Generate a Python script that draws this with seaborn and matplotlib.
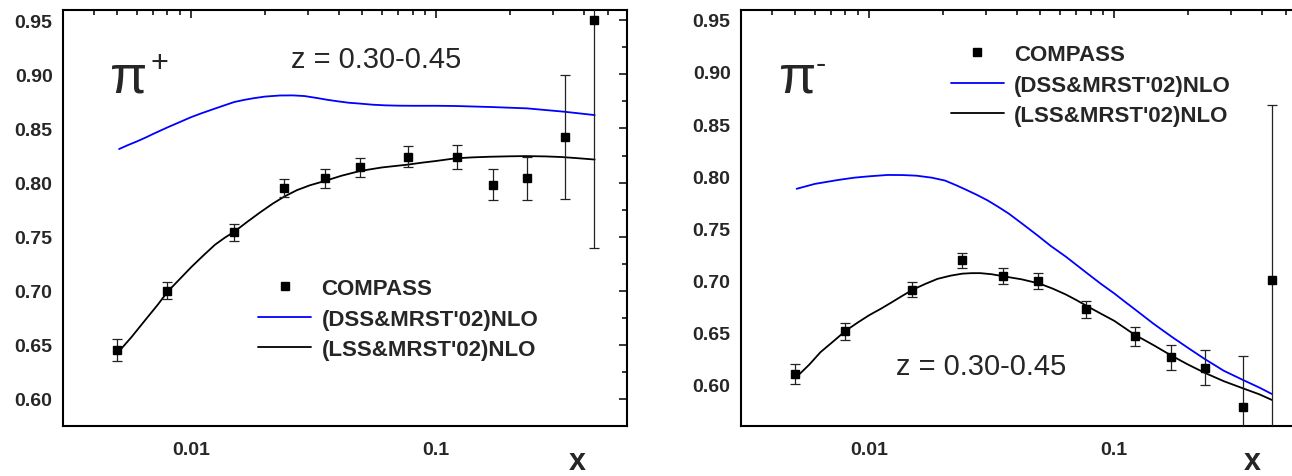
import numpy as np
import pandas as pd
import matplotlib
matplotlib.use("Agg")
import matplotlib.pyplot as plt
from matplotlib.lines import Line2D
from matplotlib.ticker import FixedLocator, FixedFormatter, LogLocator, NullFormatter, MultipleLocator, FormatStrFormatter
import seaborn as sns

# ---------------- data ----------------
x_pts = [0.005, 0.008, 0.015, 0.024, 0.035, 0.049, 0.077, 0.121, 0.171, 0.235, 0.334, 0.442]

pip_y = [0.645, 0.700, 0.754, 0.795, 0.804, 0.814, 0.824, 0.824, 0.798, 0.804, 0.842, 0.950]
pip_err = [0.010, 0.008, 0.008, 0.0085, 0.0088, 0.009, 0.0095, 0.011, 0.0143, 0.0197, 0.057, 0.21]

pim_y = [0.610, 0.651, 0.691, 0.719, 0.704, 0.699, 0.672, 0.646, 0.626, 0.616, 0.578, 0.700]
pim_err = [0.0098, 0.008, 0.007, 0.0076, 0.008, 0.0078, 0.008, 0.0087, 0.012, 0.017, 0.049, 0.168]

pip_dss_x = [0.00508, 0.0055, 0.006, 0.0065, 0.007, 0.008, 0.009, 0.010, 0.011, 0.012, 0.0135, 0.015,
             0.0165, 0.018, 0.020, 0.023, 0.026, 0.029, 0.033, 0.036, 0.040, 0.044, 0.049, 0.055,
             0.062, 0.070, 0.080, 0.100, 0.120, 0.170, 0.235, 0.333, 0.443]
pip_dss_y = [0.831, 0.8345, 0.838, 0.8415, 0.845, 0.851, 0.856, 0.8605, 0.864, 0.867, 0.871, 0.8745,
             0.8765, 0.878, 0.8795, 0.8805, 0.8806, 0.880, 0.878, 0.8765, 0.875, 0.8738, 0.873, 0.872,
             0.8714, 0.8711, 0.871, 0.871, 0.8708, 0.8698, 0.8686, 0.8655, 0.8624]

pip_lss_x = [0.00503, 0.0057, 0.0065, 0.0073, 0.00803, 0.009, 0.010, 0.0112, 0.0125, 0.0137, 0.0150,
             0.0170, 0.0191, 0.0215, 0.024, 0.027, 0.0305, 0.0351, 0.041, 0.0488, 0.060, 0.0765,
             0.088, 0.100, 0.1194, 0.140, 0.166, 0.200, 0.231, 0.280, 0.326, 0.380, 0.443]
pip_lss_y = [0.643, 0.657, 0.673, 0.687, 0.6994, 0.711, 0.7218, 0.7325, 0.7425, 0.7490, 0.7546,
             0.7640, 0.7724, 0.7805, 0.7871, 0.7930, 0.7975, 0.8015, 0.8063, 0.8107, 0.8140, 0.8166,
             0.8185, 0.820, 0.8224, 0.8233, 0.8239, 0.8243, 0.8245, 0.8242, 0.8236, 0.8225, 0.8213]

pim_dss_x = [0.00506, 0.006, 0.00748, 0.0087, 0.010, 0.0119, 0.0137, 0.0156, 0.018, 0.0204, 0.0225,
             0.0249, 0.0275, 0.0304, 0.0335, 0.0371, 0.042, 0.0484, 0.055, 0.0633, 0.070, 0.0772,
             0.088, 0.100, 0.111, 0.123, 0.145, 0.172, 0.200, 0.233, 0.280, 0.3366, 0.390, 0.4398]
pim_dss_y = [0.7878, 0.7925, 0.7963, 0.7985, 0.7998, 0.8011, 0.8010, 0.8004, 0.7985, 0.7957, 0.7915,
             0.7868, 0.7820, 0.7767, 0.7707, 0.764, 0.7545, 0.7434, 0.7330, 0.7228, 0.7148, 0.707,
             0.6967, 0.6873, 0.679, 0.671, 0.658, 0.6455, 0.635, 0.6246, 0.613, 0.604, 0.597, 0.5907]

pim_lss_x = [0.00506, 0.0057, 0.00633, 0.0072, 0.00802, 0.009, 0.010, 0.0112, 0.0123, 0.0137, 0.0151,
             0.017, 0.019, 0.0215, 0.024, 0.0262, 0.0284, 0.0315, 0.0353, 0.042, 0.0495, 0.056,
             0.0633, 0.070, 0.0772, 0.088, 0.100, 0.1205, 0.145, 0.1705, 0.200, 0.2343, 0.280,
             0.3366, 0.390, 0.4398]
pim_lss_y = [0.6072, 0.619, 0.6309, 0.6420, 0.6515, 0.6595, 0.6664, 0.6728, 0.6785, 0.6852, 0.6911,
             0.6966, 0.7013, 0.7044, 0.7063, 0.7068, 0.7068, 0.7058, 0.7038, 0.7008, 0.6968, 0.6920,
             0.6864, 0.6810, 0.6753, 0.6680, 0.661, 0.6480, 0.6375, 0.6278, 0.619, 0.611, 0.603,
             0.596, 0.5905, 0.585]

legend_labels = ["COMPASS", "(DSS&MRST'02)NLO", "(LSS&MRST'02)NLO"]
x_tick_vals = [0.01, 0.1]
x_tick_labels = ["0.01", "0.1"]
z_label = "z = 0.30-0.45"

# ---------------- style ----------------
sns.set_style("white")
plt.rcParams["font.family"] = ["Liberation Sans", "DejaVu Sans"]

W, H = 1292, 477
fig = plt.figure(figsize=(W / 100, H / 100), dpi=100)

def px_ax(x0, x1, ytop, ybot):
    return [x0 / W, 1 - ybot / H, (x1 - x0) / W, (ybot - ytop) / H]

axL = fig.add_axes(px_ax(63, 627, 10.5, 427))
axR = fig.add_axes(px_ax(741, 1305, 10.5, 427))

BLUE = "#0000ff"

def draw(ax, y, err, dx, dy, lx, ly, ylim):
    ax.set_xscale("log")
    sns.lineplot(x=dx, y=dy, ax=ax, color=BLUE, lw=1.3, sort=False, estimator=None)
    sns.lineplot(x=lx, y=ly, ax=ax, color="black", lw=1.3, sort=False, estimator=None)
    ax.errorbar(x_pts, y, yerr=err, fmt="s", color="black", ms=6, elinewidth=0.9,
                capsize=3.3, capthick=0.9, ecolor="#222222", zorder=5)
    ax.set_xlim(0.003, 0.6)
    ax.set_ylim(*ylim)
    ax.set_xlabel("")
    ax.set_ylabel("")
    ax.xaxis.set_major_locator(FixedLocator(x_tick_vals))
    ax.xaxis.set_major_formatter(FixedFormatter(x_tick_labels))
    ax.xaxis.set_minor_locator(LogLocator(base=10, subs=np.arange(2, 10), numticks=20))
    ax.xaxis.set_minor_formatter(NullFormatter())
    ax.yaxis.set_major_locator(MultipleLocator(0.05))
    ax.yaxis.set_minor_locator(MultipleLocator(0.025))
    ax.yaxis.set_major_formatter(FormatStrFormatter("%.2f"))
    ax.tick_params(which="both", direction="in", top=True, right=True, width=1.1, color="black")
    ax.tick_params(which="major", length=6)
    ax.tick_params(which="minor", length=3.6)
    ax.tick_params(axis="x", which="major", pad=10.5, labelsize=14)
    ax.tick_params(axis="y", which="major", pad=7.5, labelsize=14)
    for lab in ax.get_xticklabels() + ax.get_yticklabels():
        lab.set_fontweight("bold")
    for s in ax.spines.values():
        s.set_linewidth(1.5)
        s.set_color("black")
    ax.grid(False)

draw(axL, pip_y, pip_err, pip_dss_x, pip_dss_y, pip_lss_x, pip_lss_y, (0.575, 0.96))
draw(axR, pim_y, pim_err, pim_dss_x, pim_dss_y, pim_lss_x, pim_lss_y, (0.56, 0.96))

handles = [
    Line2D([], [], marker="s", ls="none", color="black", ms=6),
    Line2D([], [], color=BLUE, lw=1.3),
    Line2D([], [], color="black", lw=1.3),
]

def add_legend(ax, xf, yf):
    leg = ax.legend(handles, legend_labels, loc="upper left", bbox_to_anchor=(xf, yf),
                    frameon=False, borderpad=0, borderaxespad=0, handlelength=2.4,
                    handletextpad=0.45, labelspacing=0.43,
                    prop={"family": "Liberation Sans", "weight": "bold", "size": 16})
    return leg

add_legend(axL, 0.346, 0.355)
add_legend(axR, 0.372, 0.917)

# pion labels
axL.text(0.084, 0.802, "\u03c0", transform=axL.transAxes, fontsize=39, ha="left", va="baseline")
axL.text(0.155, 0.872, "+", transform=axL.transAxes, fontsize=22, ha="left", va="center")
axR.text(0.068, 0.804, "\u03c0", transform=axR.transAxes, fontsize=39, ha="left", va="baseline")
axR.text(0.133, 0.868, "-", transform=axR.transAxes, fontsize=22, ha="left", va="center")

# z labels
axL.text(0.404, 0.862, z_label, transform=axL.transAxes, fontsize=21, ha="left", va="baseline")
axR.text(0.275, 0.125, z_label, transform=axR.transAxes, fontsize=21, ha="left", va="baseline")

# axis labels "x"
fig.text(577 / W, 1 - 470 / H, "x", fontsize=22, fontweight="bold", ha="center", va="baseline")
fig.text(1252 / W, 1 - 470 / H, "x", fontsize=22, fontweight="bold", ha="center", va="baseline")

fig.savefig("out.png", dpi=100)
